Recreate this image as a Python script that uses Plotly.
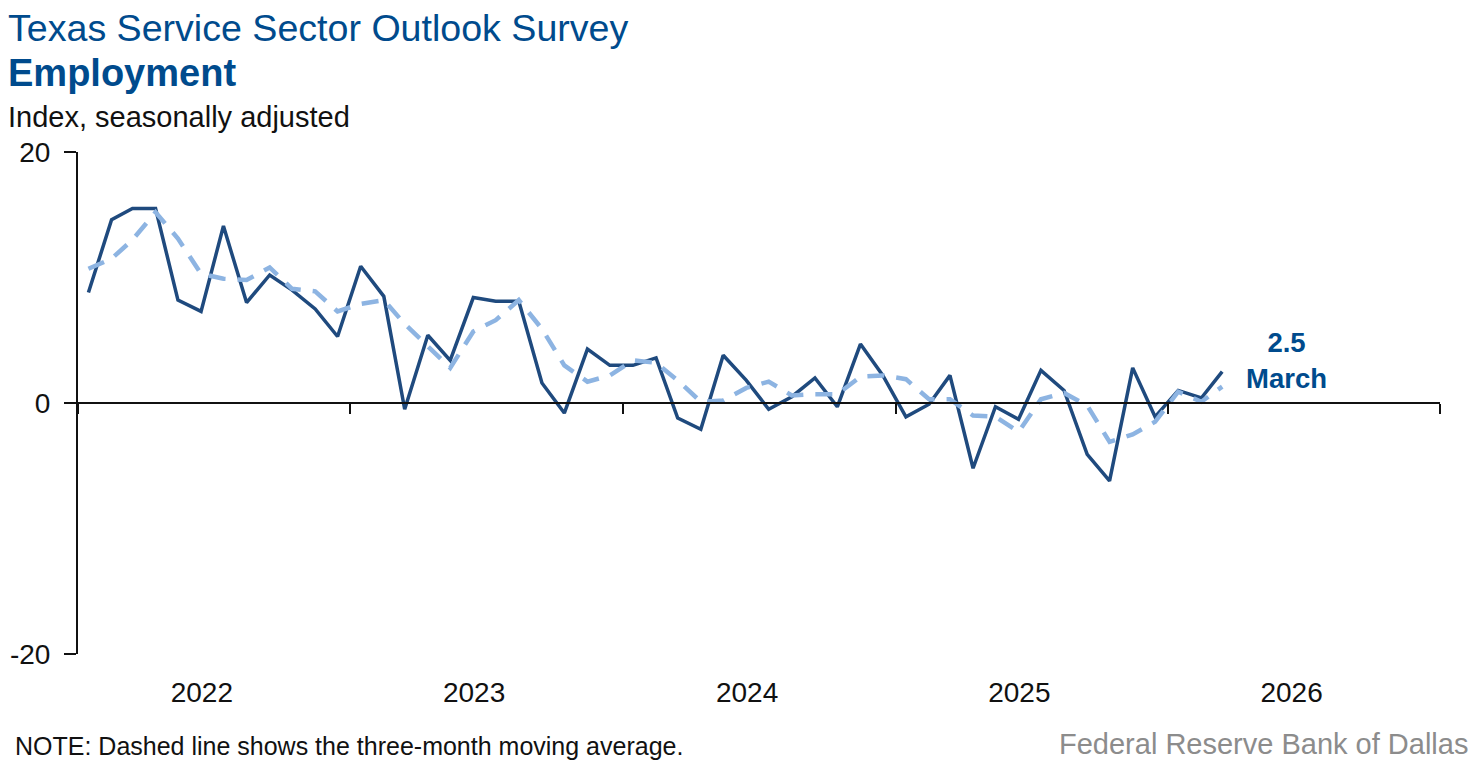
import plotly.graph_objects as go

# ---- data ----
months = [f"{2022 + i // 12}-{i % 12 + 1:02d}-15" for i in range(51)]
employment = [8.8, 14.6, 15.5, 15.5, 8.2, 7.3, 14.1, 8.0, 10.2, 9.0, 7.5, 5.3,
              10.9, 8.5, -0.5, 5.4, 3.4, 8.4, 8.1, 8.1, 1.6, -0.8, 4.3, 3.0,
              3.0, 3.6, -1.2, -2.1, 3.8, 1.8, -0.5, 0.5, 2.0, -0.3, 4.7, 2.2,
              -1.1, -0.1, 2.2, -5.2, -0.3, -1.3, 2.6, 1.0, -4.1, -6.2, 2.8, -1.1,
              1.0, 0.4, 2.5]
moving_avg = [10.7, 11.5, 13.0, 15.2, 13.1, 10.3, 9.9, 9.8, 10.8, 9.1, 8.9, 7.3,
              7.9, 8.2, 6.3, 4.5, 2.8, 5.7, 6.6, 8.2, 5.9, 3.0, 1.7, 2.2,
              3.4, 3.2, 1.8, 0.1, 0.2, 1.2, 1.7, 0.6, 0.7, 0.7, 2.1, 2.2,
              1.9, 0.3, 0.3, -1.0, -1.1, -2.3, 0.3, 0.8, -0.2, -3.1, -2.5, -1.5,
              0.9, 0.1, 1.3]
year_labels = ["2022", "2023", "2024", "2025", "2026"]
y_ticks = [-20, 0, 20]
last_label = "2.5"
last_month = "March"

FONT = "Liberation Sans, Arial, sans-serif"
BLUE_TXT = "#004B8D"
SOLID = "#1F4A7E"
DASH = "#8DB4E2"

# page body has an 8px margin: figure is 8px smaller, plot area stays 1362x502
OFF = 8
PL, PT, PW, PH = 78 - OFF, 152 - OFF, 1362, 502

fig = go.Figure()
fig.add_trace(go.Scatter(x=months, y=employment, mode="lines",
                         line=dict(color=SOLID, width=3.5),
                         xaxis="x", yaxis="y", showlegend=False, hoverinfo="skip"))
fig.add_trace(go.Scatter(x=months, y=moving_avg, mode="lines",
                         line=dict(color=DASH, width=4.5, dash="17px,12px"),
                         xaxis="x2", yaxis="y", showlegend=False, hoverinfo="skip"))

xr = ["2022-01-01", "2027-01-01"]
W, H = 1482 - OFF, 769 - OFF
fig.update_layout(
    template="none",
    width=W, height=H,
    margin=dict(l=PL, r=W - PL - PW, t=PT, b=H - PT - PH, autoexpand=False),
    paper_bgcolor="white", plot_bgcolor="white",
    font=dict(family=FONT, color="black"),
    xaxis=dict(type="date", range=xr, automargin=False,
               tickvals=[f"{y}-06-16" for y in year_labels], ticktext=year_labels,
               showline=False, showgrid=False, zeroline=False,
               ticks="outside", ticklen=13, tickcolor="rgba(0,0,0,0)",
               tickfont=dict(size=28, family=FONT, color="#111")),
    xaxis2=dict(type="date", range=xr, dtick="M12", tick0="2022-01-01",
                overlaying="x", anchor="free", position=0.5, matches="x",
                automargin=False,
                showline=True, linecolor="#111", linewidth=2,
                ticks="outside", ticklen=10, tickwidth=2, tickcolor="#111",
                showticklabels=False, showgrid=False, zeroline=False),
    yaxis=dict(range=[-20, 20], tickvals=y_ticks, ticktext=[str(v) for v in y_ticks],
               automargin=False,
               showline=True, linecolor="#111", linewidth=2,
               ticks="outside", ticklen=12, tickwidth=2, tickcolor="#111",
               ticklabelstandoff=8,
               showgrid=False, zeroline=False,
               tickfont=dict(size=28, family=FONT, color="#111")),
)


def px_x(x):
    return (x - OFF - PL) / PW


def px_y(y):
    return (PT + PH - (y - OFF)) / PH


ann = [
    dict(text="Texas Service Sector Outlook Survey", x=px_x(6), y=px_y(28),
         font=dict(size=37.6, color=BLUE_TXT, family=FONT)),
    dict(text="<b>Employment</b>", x=px_x(6), y=px_y(73),
         font=dict(size=38, color=BLUE_TXT, family=FONT)),
    dict(text="Index, seasonally adjusted", x=px_x(6), y=px_y(117),
         font=dict(size=29, color="#111", family=FONT)),
    dict(text="NOTE: Dashed line shows the three-month moving average.",
         x=px_x(13), y=px_y(746),
         font=dict(size=25, color="#111", family=FONT)),
]
for a in ann:
    a.update(xref="paper", yref="paper", xanchor="left", yanchor="middle", showarrow=False)
    fig.add_annotation(**a)
fig.add_annotation(text="Federal Reserve Bank of Dallas", xref="paper", yref="paper",
                   x=px_x(1470), y=px_y(744), xanchor="right",
                   yanchor="middle", showarrow=False,
                   font=dict(size=29, color="#8C8C8C", family=FONT))
fig.add_annotation(text=f"<b>{last_label}<br>{last_month}</b>", x=months[-1], y=employment[-1],
                   xref="x", yref="y", xshift=64, yshift=11, showarrow=False,
                   xanchor="center", yanchor="middle",
                   font=dict(size=27.5, color=BLUE_TXT, family=FONT))

fig.write_html("out.html")
